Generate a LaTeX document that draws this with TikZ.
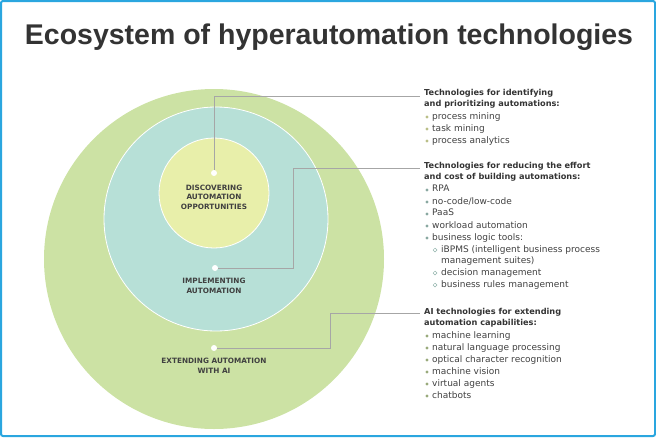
\documentclass[tikz,border=0pt]{standalone}
\usepackage{fontspec}
\setmainfont{DejaVu Sans}
\newfontfamily\titlefont{Liberation Sans}
\begin{document}
\begin{tikzpicture}[x=1pt,y=-1pt,
  lead/.style={draw=gray!70,line width=0.8pt},
  dotw/.style={circle,fill=white,inner sep=0pt,minimum size=6pt},
  lab/.style={font=\bfseries\fontsize{7.3}{9.5}\selectfont,text=black!75,align=center},
  hd/.style={anchor=north west,font=\bfseries\fontsize{8.2}{11}\selectfont,text=black!80,align=left,inner sep=0pt},
  it/.style={anchor=north west,font=\fontsize{9}{11.5}\selectfont,text=black!75,align=left,inner sep=0pt}]
\definecolor{og}{HTML}{CCE2A4}\definecolor{mg}{HTML}{B7E0D7}\definecolor{ig}{HTML}{E8EFAA}
\definecolor{frm}{HTML}{2AA6DF}
\useasboundingbox (0,0) rectangle (656,437);
\draw[frm,line width=2pt,rounded corners=2pt] (1,1) rectangle (655,436);
\node[font=\titlefont\bfseries\fontsize{28.5}{30}\selectfont,text=black!80] (title) at (329,37) {Ecosystem of hyperautomation technologies};
\fill[og] (214,259) circle (170);
\fill[mg,draw=white,line width=0.8pt] (216,219) circle (112);
\fill[ig,draw=white,line width=0.8pt] (214,193) circle (55);
\node[dotw] (d1) at (214,173) {};
\node[dotw] (d2) at (215,268) {};
\node[dotw] (d3) at (214,348) {};
\node[lab] at (214,197) {DISCOVERING\\AUTOMATION\\OPPORTUNITIES};
\node[lab] at (214,286) {IMPLEMENTING\\AUTOMATION};
\node[lab] at (214,366) {EXTENDING AUTOMATION\\WITH AI};
\coordinate (e1) at (420,96);\coordinate (e2) at (420,168);\coordinate (e3) at (420,313);
\draw[lead] (d1) |- (e1);
\draw[lead] (d2) -- (293,268) |- (e2);
\draw[lead] (d3) -- (330,348) |- (e3);
\newcommand\bl[3]{\fill[#1] (427,#2+5) circle (1.7); \node[it] at (432,#2) {#3};}
\newcommand\sbl[2]{\draw[mg!80!black,line width=0.5pt] (435,#1+5) circle (1.9); \node[it] at (441,#1) {#2};}
\node[hd] at (424,89) {Technologies for identifying\\and prioritizing automations:};
\bl{ig!80!black}{112}{process mining}
\bl{ig!80!black}{124}{task mining}
\bl{ig!80!black}{136}{process analytics}
\node[hd] at (424,162) {Technologies for reducing the effort\\and cost of building automations:};
\bl{mg!75!black}{185}{RPA}
\bl{mg!75!black}{197}{no-code/low-code}
\bl{mg!75!black}{209}{PaaS}
\bl{mg!75!black}{221}{workload automation}
\bl{mg!75!black}{233}{business logic tools:}
\sbl{245}{iBPMS (intelligent business process\\management suites)}
\sbl{268}{decision management}
\sbl{280}{business rules management}
\node[hd] at (424,308) {AI technologies for extending\\automation capabilities:};
\bl{og!75!black}{331}{machine learning}
\bl{og!75!black}{343}{natural language processing}
\bl{og!75!black}{355}{optical character recognition}
\bl{og!75!black}{367}{machine vision}
\bl{og!75!black}{379}{virtual agents}
\bl{og!75!black}{391}{chatbots}
\end{tikzpicture}
\end{document}
